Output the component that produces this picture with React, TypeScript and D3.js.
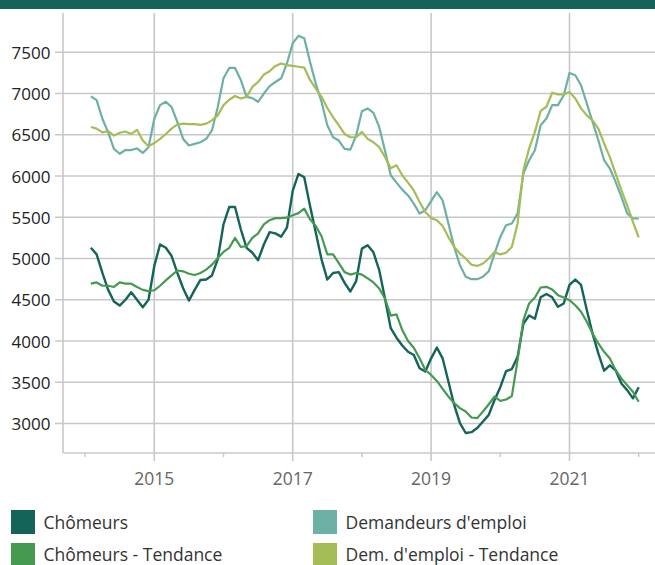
import React from "react";
import * as d3 from "d3";

// Monthly series, Feb 2014 .. Jan 2022 (96 months)
const startYear = 2014;
const startMonth = 1; // months after Jan 2014 for first point (Feb 2014)

const chomeurs = [
  5130, 5050, 4825, 4620, 4480, 4430, 4500, 4590, 4500, 4410, 4500, 4910,
  5170, 5130, 5030, 4825, 4640, 4490, 4620, 4740, 4745, 4795, 4990, 5415,
  5625, 5625, 5355, 5130, 5070, 4980, 5170, 5320, 5305, 5265, 5375, 5820,
  6025, 5985, 5640, 5315, 4990, 4745, 4825, 4835, 4705, 4600, 4725, 5120,
  5160, 5075, 4860, 4515, 4155, 4040, 3945, 3870, 3830, 3670, 3630, 3790,
  3920, 3790, 3510, 3225, 3005, 2885, 2895, 2945, 3025, 3105, 3285, 3440,
  3635, 3660, 3810, 4210, 4310, 4270, 4530, 4570, 4530, 4415, 4455, 4680,
  4745, 4680, 4375, 4090, 3850, 3640, 3705, 3645, 3485, 3405, 3305, 3440,
];

const chomeursTendance = [
  4695, 4710, 4670, 4670, 4655, 4710, 4695, 4695, 4655, 4620, 4605, 4615,
  4670, 4735, 4795, 4855, 4845, 4815, 4800, 4825, 4865, 4925, 5005, 5080,
  5130, 5250, 5140, 5150, 5250, 5305, 5415, 5465, 5490, 5490, 5495, 5525,
  5550, 5605, 5475, 5395, 5270, 5050, 5050, 4945, 4835, 4805, 4825, 4805,
  4760, 4710, 4637, 4516, 4307, 4323, 4133, 4000, 3919, 3790, 3649, 3589,
  3516, 3420, 3327, 3246, 3186, 3145, 3073, 3065, 3145, 3234, 3327, 3275,
  3291, 3332, 3768, 4253, 4455, 4528, 4649, 4657, 4625, 4556, 4528, 4495,
  4434, 4354, 4233, 4091, 3970, 3869, 3788, 3647, 3546, 3465, 3384, 3263,
];

const demandeurs = [
  6965, 6920, 6695, 6530, 6330, 6270, 6315, 6315, 6335, 6280, 6350, 6695,
  6860, 6900, 6835, 6655, 6450, 6370, 6390, 6410, 6450, 6555, 6835, 7185,
  7310, 7310, 7165, 6960, 6945, 6900, 7000, 7090, 7140, 7185, 7365, 7610,
  7700, 7670, 7385, 7120, 6900, 6615, 6470, 6430, 6330, 6320, 6490, 6785,
  6820, 6765, 6595, 6310, 6010, 5920, 5835, 5765, 5665, 5545, 5585, 5695,
  5805, 5705, 5425, 5140, 4920, 4780, 4750, 4750, 4780, 4845, 5060, 5262,
  5404, 5424, 5546, 6030, 6192, 6313, 6616, 6697, 6859, 6859, 6980, 7250,
  7222, 7101, 6879, 6657, 6434, 6192, 6091, 5929, 5747, 5546, 5485, 5485,
];

const demandeursTendance = [
  6595, 6575, 6530, 6545, 6490, 6525, 6540, 6510, 6560, 6430, 6360, 6400,
  6450, 6510, 6575, 6625, 6635, 6630, 6630, 6620, 6635, 6675, 6735, 6860,
  6925, 6970, 6940, 6960, 7080, 7140, 7230, 7270, 7335, 7365, 7345, 7335,
  7325, 7315, 7165, 7060, 6960, 6825, 6715, 6615, 6510, 6470, 6470, 6535,
  6450, 6410, 6350, 6230, 6095, 6130, 6010, 5920, 5825, 5685, 5565, 5490,
  5465, 5395, 5260, 5140, 5060, 5000, 4925, 4910, 4940, 5000, 5080, 5050,
  5070, 5140, 5425, 6070, 6335, 6535, 6790, 6840, 7010, 6990, 6990, 7020,
  6940, 6820, 6735, 6675, 6575, 6395, 6230, 6030, 5830, 5645, 5445, 5255,
];

const yTicks = [3000, 3500, 4000, 4500, 5000, 5500, 6000, 6500, 7000, 7500];
const xMajorTicks = [2015, 2017, 2019, 2021];
const xMinorTicks = [2014, 2016, 2018, 2020, 2022];

const seriesNames = [
  "Chômeurs",
  "Demandeurs d'emploi",
  "Chômeurs - Tendance",
  "Dem. d'emploi - Tendance",
];
const seriesColors = ["#15645a", "#6db0a6", "#459a50", "#a5bd57"];
const seriesData = [chomeurs, demandeurs, chomeursTendance, demandeursTendance];

const W = 655;
const H = 565;
const FONT = "'Open Sans', 'Noto Sans', sans-serif";

export default function App() {
  const plotLeft = 63;
  const plotRight = W;
  const plotTop = 13;
  const plotBottom = 453;

  const x = d3.scaleLinear().domain([2015, 2021]).range([154.3, 569.5]);
  const y = d3.scaleLinear().domain([3000, 7500]).range([423.5, 52.3]);

  const t = (i: number) => startYear + (startMonth + i) / 12;

  const line = (vals: number[]) =>
    d3
      .line<number>()
      .x((_, i) => x(t(i)))
      .y((v) => y(v))(vals) || "";

  const grid = "#c8c8c8";

  return (
    <div style={{ position: "fixed", left: 0, top: 0 }}>
      <svg width={W} height={H} style={{ display: "block", fontFamily: FONT }}>
        <rect x={0} y={0} width={W} height={H} fill="#ffffff" />
        <rect x={0} y={0} width={W} height={9} fill="#16625a" />

        {/* horizontal gridlines */}
        {yTicks.map((v) => (
          <line
            key={"h" + v}
            x1={55}
            x2={plotRight}
            y1={y(v)}
            y2={y(v)}
            stroke={grid}
            strokeWidth={1.6}
          />
        ))}
        {/* vertical gridlines */}
        {xMajorTicks.map((v) => (
          <line
            key={"v" + v}
            x1={x(v)}
            x2={x(v)}
            y1={plotTop}
            y2={plotBottom + 8}
            stroke={grid}
            strokeWidth={1.6}
          />
        ))}
        {xMinorTicks.map((v) => (
          <line
            key={"m" + v}
            x1={x(v)}
            x2={x(v)}
            y1={plotBottom}
            y2={plotBottom + 4}
            stroke={grid}
            strokeWidth={1.4}
          />
        ))}
        {/* axes */}
        <line x1={plotLeft} x2={plotLeft} y1={plotTop} y2={plotBottom} stroke={grid} strokeWidth={1.6} />
        <line x1={plotLeft} x2={plotRight} y1={plotBottom} y2={plotBottom} stroke={grid} strokeWidth={1.6} />

        {/* y labels */}
        {yTicks.map((v) => (
          <text
            key={"yl" + v}
            x={50.5}
            y={y(v)}
            textAnchor="end"
            dominantBaseline="central"
            fontSize={17}
            fill="#222"
          >
            {v}
          </text>
        ))}
        {/* x labels */}
        {xMajorTicks.map((v) => (
          <text
            key={"xl" + v}
            x={x(v)}
            y={477.5}
            textAnchor="middle"
            dominantBaseline="central"
            fontSize={17.5}
            fill="#666"
          >
            {v}
          </text>
        ))}

        {/* lines */}
        {seriesData.map((vals, k) => (
          <path
            key={"s" + k}
            d={line(vals)}
            fill="none"
            stroke={seriesColors[k]}
            strokeWidth={k === 0 ? 2.4 : 2.2}
            strokeLinejoin="round"
          />
        ))}

        {/* legend */}
        {seriesNames.map((name, k) => {
          const col = k % 2;
          const row = Math.floor(k / 2);
          const lx = col === 0 ? 11 : 313;
          const ly = 510 + row * 33;
          return (
            <g key={"lg" + k}>
              <rect x={lx} y={ly} width={24} height={24} fill={seriesColors[k]} />
              <text
                x={lx + 32.5}
                y={ly + 12 - row * 1.5}
                dominantBaseline="central"
                fontSize={17.5}
                fill="#333"
              >
                {name}
              </text>
            </g>
          );
        })}
      </svg>
    </div>
  );
}
